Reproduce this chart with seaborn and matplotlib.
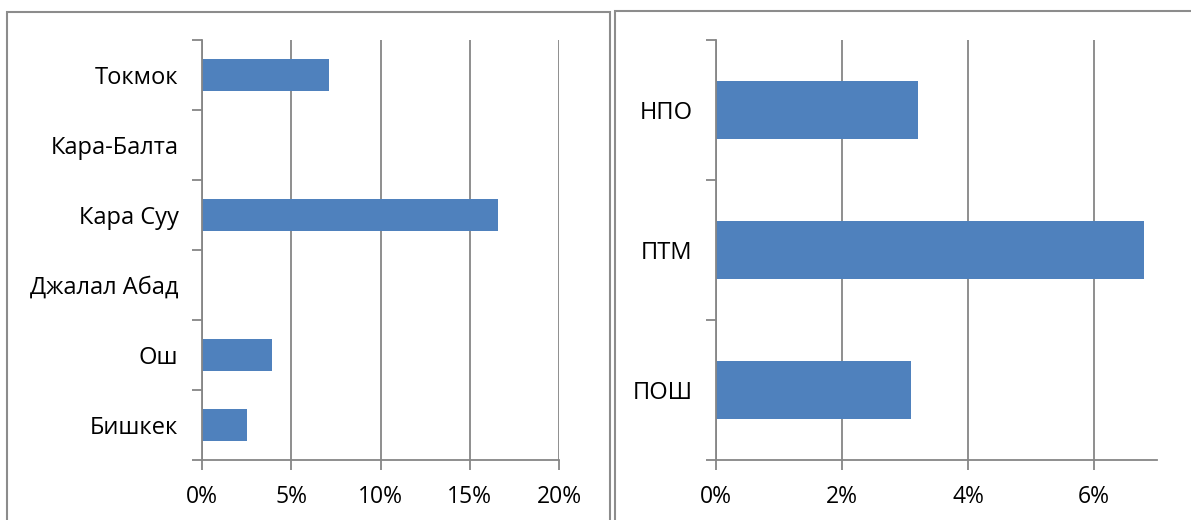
import numpy as np
import pandas as pd
import matplotlib
matplotlib.use("Agg")
import matplotlib.pyplot as plt
from matplotlib.patches import Rectangle
import seaborn as sns

# Data (percent values)
cities = ['Токмок', 'Кара-Балта', 'Кара Суу', 'Джалал Абад', 'Ош', 'Бишкек']
city_values = [7.1, 0.0, 16.6, 0.0, 3.9, 2.5]
city_ticks = [0, 5, 10, 15, 20]

schools = ['НПО', 'ПТМ', 'ПОШ']
school_values = [3.2, 6.8, 3.1]
school_ticks = [0, 2, 4, 6]

sns.set_style("white")
plt.rcParams['font.family'] = ['Open Sans', 'DejaVu Sans']
plt.rcParams['text.color'] = 'black'

bar_color = '#4F81BD'
axis_gray = '#868686'

W, H = 1191, 520
fig = plt.figure(figsize=(W / 100, H / 100), dpi=100)


def px_axes(x0, x1, y_top, y_bot):
    return fig.add_axes([x0 / W, 1 - y_bot / H, (x1 - x0) / W, (y_bot - y_top) / H])


def style_axis(ax, cats, ticks, xmax):
    ax.set_xlim(0, xmax)
    n = len(cats)
    ax.set_ylim(n - 0.5, -0.5)
    # category labels in the middle, tick marks on the boundaries
    ax.set_yticks(list(np.arange(n) - 0.5) + [n - 0.5], labels=[''] * (n + 1))
    ax.set_yticks(np.arange(n), labels=cats, minor=True)
    ax.tick_params(axis='y', which='major', direction='out', length=7, width=1.3,
                   color=axis_gray, left=True)
    ax.tick_params(axis='y', which='minor', length=0, pad=17, labelsize=17,
                   labelcolor='black')
    ax.set_xticks(ticks, labels=[f'{t}%' for t in ticks])
    ax.tick_params(axis='x', direction='out', length=7, width=1.3, color=axis_gray,
                   bottom=True, pad=11, labelsize=16.5, labelcolor='black')
    ax.grid(axis='x', color=axis_gray, lw=1.3)
    ax.grid(axis='y', visible=False)
    ax.set_axisbelow(True)
    for s in ['top', 'right']:
        ax.spines[s].set_visible(False)
    for s in ['left', 'bottom']:
        ax.spines[s].set_color(axis_gray)
        ax.spines[s].set_linewidth(1.3)
    ax.set_xlabel('')
    ax.set_ylabel('')


# Left panel: cities
ax1 = px_axes(202, 559, 40, 460)
df1 = pd.DataFrame({'city': cities, 'value': city_values})
sns.barplot(data=df1, x='value', y='city', orient='h', color=bar_color,
            width=0.47, linewidth=0, saturation=1, ax=ax1)
style_axis(ax1, cities, city_ticks, 20)

# Right panel: school types
ax2 = px_axes(716, 1157, 40, 460)
df2 = pd.DataFrame({'school': schools, 'value': school_values})
sns.barplot(data=df2, x='value', y='school', orient='h', color=bar_color,
            width=0.41, linewidth=0, saturation=1, ax=ax2)
style_axis(ax2, schools, school_ticks, 7)

# chart frames
border = '#8c8c8c'
fig.add_artist(Rectangle((7 / W, -0.02), (610 - 7) / W, 1 - 12 / H + 0.02,
                         transform=fig.transFigure, fill=False, ec=border, lw=1.5))
fig.add_artist(Rectangle((615 / W, -0.02), (1200 - 615) / W, 1 - 11 / H + 0.02,
                         transform=fig.transFigure, fill=False, ec=border, lw=1.5))

fig.savefig('out.png', dpi=100)
